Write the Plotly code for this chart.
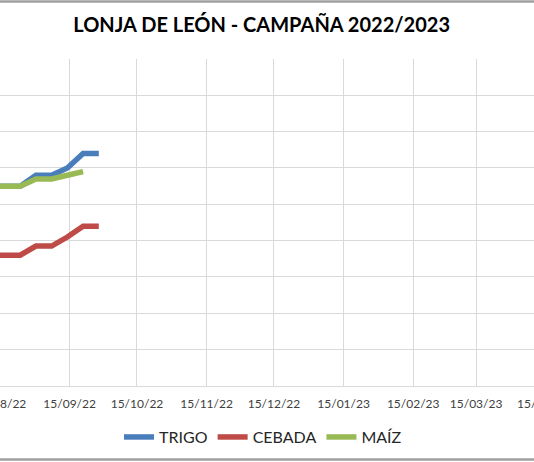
import plotly.graph_objects as go

# sesiones semanales (precios en euros/t)
fechas = ["2022-08-10", "2022-08-17", "2022-08-24", "2022-08-31",
          "2022-09-07", "2022-09-14", "2022-09-21", "2022-09-28"]
trigo = [310, 310, 310, 316, 316, 320, 328, 328]
cebada = [272, 272, 272, 277, 277, 282, 288, 288]
maiz = [310, 310, 310, 314, 314, 316, 318, None]

series = [("TRIGO", trigo, "#4A7EBB"),
          ("CEBADA", cebada, "#BE4B48"),
          ("MAÍZ", maiz, "#98B954")]

fig = go.Figure()
for nombre, valores, color in series:
    fig.add_trace(go.Scatter(x=fechas, y=valores, name=nombre,
                             mode="lines",
                             line=dict(color=color, width=5.5),
                             connectgaps=False))

grid = "#D9D9D9"
fig.update_layout(
    width=534, height=462,
    margin=dict(l=0, r=0, t=0, b=0, autoexpand=False),
    paper_bgcolor="white", plot_bgcolor="white",
    font=dict(family="Lato", color="#404040"),
    title=dict(text="<b>LONJA DE LEÓN - CAMPAÑA 2022/2023</b>",
               x=0.49, xanchor="center", y=0.946, yanchor="middle",
               font=dict(size=20, color="black")),
    legend=dict(orientation="h", x=0.4925, xanchor="center",
                y=0.054, yanchor="middle",
                font=dict(size=16, color="#262626"),
                itemwidth=30),
    xaxis=dict(type="date", automargin=False, domain=[0, 1],
               range=["2022-08-15", "2023-04-09 19:00"],
               tick0="2022-08-15", dtick="M1", tickformat="%d/%m/%y",
               ticklabeloverflow="allow", ticklabelstandoff=6,
               showgrid=True, gridcolor=grid, gridwidth=1.3,
               showline=True, linecolor=grid, linewidth=1.3,
               ticks="", tickfont=dict(size=12, color="#404040"),
               zeroline=False),
    yaxis=dict(range=[200, 380], dtick=20, automargin=False,
               domain=[0.1645, 0.8723],
               showgrid=True, gridcolor=grid, gridwidth=1.3,
               showticklabels=False, zeroline=False, showline=False),
    # borde gris del área del gráfico (arriba y abajo)
    shapes=[dict(type="line", xref="paper", yref="paper", layer="above",
                 x0=0, x1=1, y0=0.9968, y1=0.9968,
                 line=dict(color="#A0A0A0", width=2.5)),
            dict(type="line", xref="paper", yref="paper", layer="above",
                 x0=0, x1=1, y0=0.0054, y1=0.0054,
                 line=dict(color="#A0A0A0", width=2.5))],
    annotations=[dict(text="15/04/23", xref="paper", yref="paper",
                      x=1.017, y=0.1277, xanchor="center", yanchor="middle",
                      showarrow=False, font=dict(size=12, color="#404040"))],
)

# sin margen del body para que el gráfico ocupe toda la ventana
fig.write_html("out.html", config={"displayModeBar": False},
               post_script="document.body.style.margin='0';")
